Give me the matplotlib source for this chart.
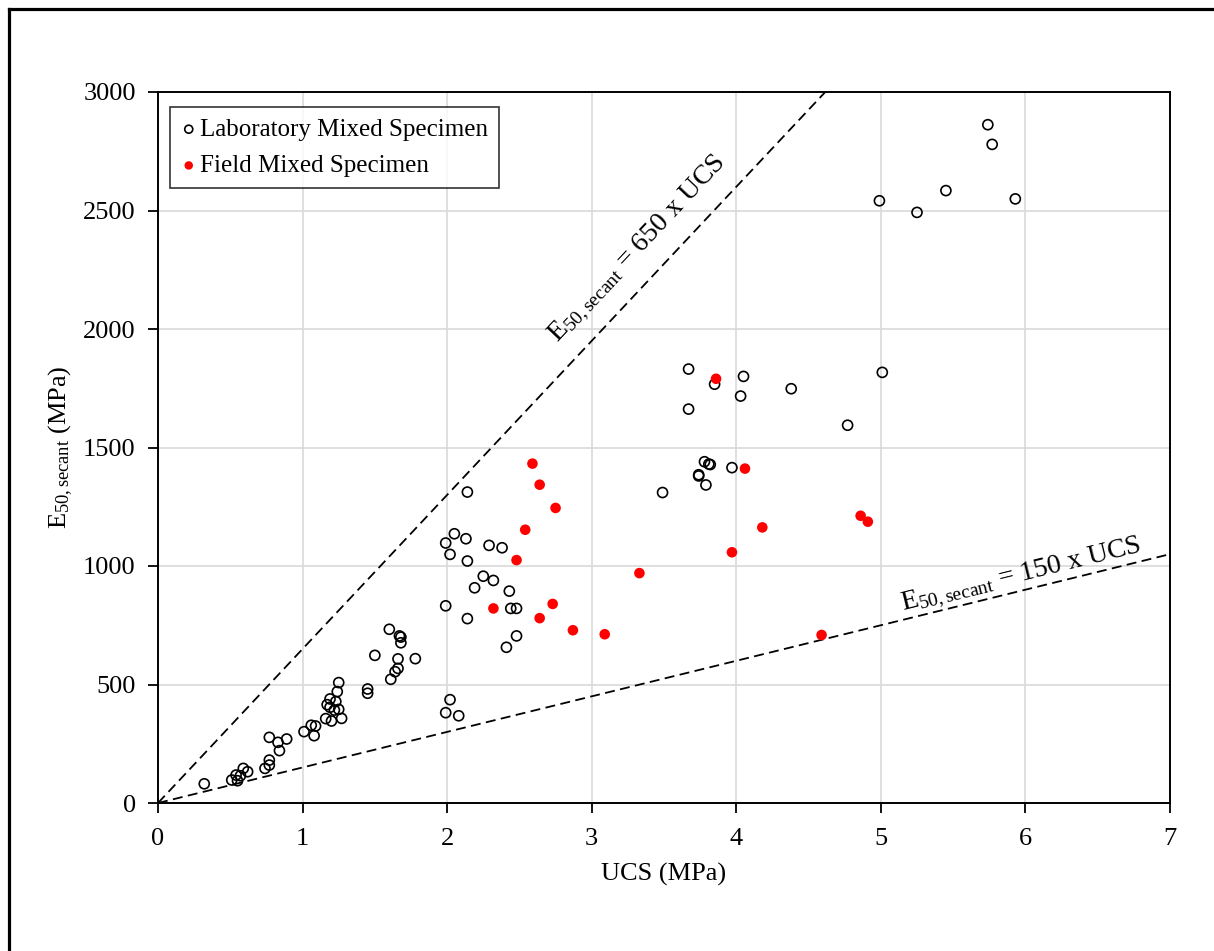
import matplotlib
matplotlib.use("Agg")
import matplotlib.pyplot as plt
from matplotlib.lines import Line2D
import numpy as np

# ---- data ----
lab_ucs = [0.32, 0.51, 0.54, 0.55, 0.57, 0.59, 0.62, 0.74, 0.77, 0.77, 0.77, 0.83, 0.84, 0.89,
           1.01, 1.06, 1.09, 1.08, 1.16, 1.20, 1.17, 1.19, 1.19, 1.23, 1.22, 1.25, 1.24, 1.25, 1.27,
           1.45, 1.45, 1.50, 1.60, 1.61, 1.64, 1.66, 1.66, 1.67, 1.68, 1.68, 1.78,
           1.99, 2.02, 1.99, 2.08, 2.14, 1.99, 2.05, 2.02, 2.13, 2.14, 2.29, 2.38, 2.25, 2.19,
           2.32, 2.43, 2.14, 2.44, 2.48, 2.48, 2.41,
           3.49, 3.67, 3.85, 4.05, 4.03, 4.38, 5.01, 4.77, 3.67, 3.78, 3.82, 3.81, 3.74, 3.74,
           3.79, 3.97, 5.74, 5.77, 4.99, 5.25, 5.45, 5.93]
lab_e = [81, 97, 118, 94, 115, 146, 132, 146, 181, 160, 277, 256, 221, 270,
         301, 328, 325, 284, 356, 346, 415, 439, 404, 428, 392, 395, 470, 508, 357,
         481, 463, 623, 733, 522, 554, 568, 608, 705, 700, 676, 609,
         832, 436, 381, 368, 1312, 1097, 1136, 1049, 1115, 1021, 1087, 1077, 957, 908,
         939, 894, 778, 821, 821, 705, 657,
         1310, 1831, 1767, 1800, 1717, 1748, 1817, 1594, 1662, 1440, 1428, 1430, 1380, 1385,
         1342, 1415, 2862, 2779, 2541, 2492, 2584, 2549]

field_ucs = [2.59, 2.64, 2.75, 2.54, 2.48, 3.33, 2.32, 2.73, 2.64, 2.87, 3.09,
             3.86, 4.06, 4.18, 3.97, 4.86, 4.91, 4.59]
field_e = [1432, 1343, 1245, 1153, 1025, 970, 821, 840, 780, 729, 712,
           1790, 1411, 1163, 1058, 1212, 1187, 709]

ratio_upper = 650
ratio_lower = 150
x_ticks = [0, 1, 2, 3, 4, 5, 6, 7]
y_ticks = [0, 500, 1000, 1500, 2000, 2500, 3000]

plt.rcParams['font.family'] = ['Liberation Serif', 'DejaVu Serif']
plt.rcParams['mathtext.fontset'] = 'custom'
plt.rcParams['mathtext.rm'] = 'Liberation Serif'
plt.rcParams['mathtext.it'] = 'Liberation Serif:italic'

W, H = 1214, 951
fig = plt.figure(figsize=(W / 100, H / 100), dpi=100)
ax = fig.add_axes([158 / W, 1 - 803 / H, (1170 - 158) / W, (803 - 92) / H])

ax.set_xlim(0, 7)
ax.set_ylim(0, 3000)
ax.set_xticks(x_ticks)
ax.set_yticks(y_ticks)
ax.grid(True, color='#d9d9d9', linewidth=1.2, zorder=0)
ax.set_axisbelow(True)
for s in ax.spines.values():
    s.set_linewidth(1.4)
    s.set_color('black')
ax.tick_params(direction='out', length=7, width=1.3, labelsize=19)
ax.tick_params(axis='x', pad=11)
ax.tick_params(axis='y', pad=9)

xx = np.array([0, 7])
ax.plot(xx, ratio_upper * xx, ls=(0, (5.5, 3)), color='black', lw=1.3, zorder=2)
ax.plot(xx, ratio_lower * xx, ls=(0, (5.5, 3)), color='black', lw=1.3, zorder=2)

ax.scatter(lab_ucs, lab_e, s=52, facecolors='none', edgecolors='black', linewidths=1.2,
           zorder=3, label='Laboratory Mixed Specimen')
ax.scatter(field_ucs, field_e, s=58, color='#ff0000', edgecolors='none',
           zorder=4, label='Field Mixed Specimen')

ax.set_xlabel('UCS (MPa)', fontsize=19, labelpad=9)
ax.set_ylabel(r'E$_{\mathrm{50,secant}}$ (MPa)', fontsize=19, labelpad=6)

ang_u = np.degrees(np.arctan(ratio_upper * 711 / 3000 / (1012 / 7)))
ang_l = np.degrees(np.arctan(ratio_lower * 711 / 3000 / (1012 / 7)))
ax.text(3.32, 2335, r'E$_{\mathrm{50,secant}}$ = 650 x UCS', fontsize=20,
        rotation=ang_u, ha='center', va='center', rotation_mode='anchor')
ax.text(5.97, 960, r'E$_{\mathrm{50,secant}}$ = 150 x UCS', fontsize=20,
        rotation=ang_l, ha='center', va='center', rotation_mode='anchor')

leg = ax.legend(loc='upper left', bbox_to_anchor=(12 / 1012, 1 - 15 / 711),
                borderaxespad=0, fontsize=18, frameon=True, fancybox=False,
                handletextpad=0.15, markerscale=0.8, borderpad=0.45,
                labelspacing=0.55, handlelength=0.6)
leg.get_frame().set_edgecolor('black')
leg.get_frame().set_linewidth(1.2)

# outer border (left and top)
fig.add_artist(Line2D([9 / W, 9 / W], [0, 1 - 9 / H], transform=fig.transFigure, color='black', lw=2.3))
fig.add_artist(Line2D([9 / W, 1], [1 - 9 / H, 1 - 9 / H], transform=fig.transFigure, color='black', lw=2.3))

fig.savefig('out.png', dpi=100)
